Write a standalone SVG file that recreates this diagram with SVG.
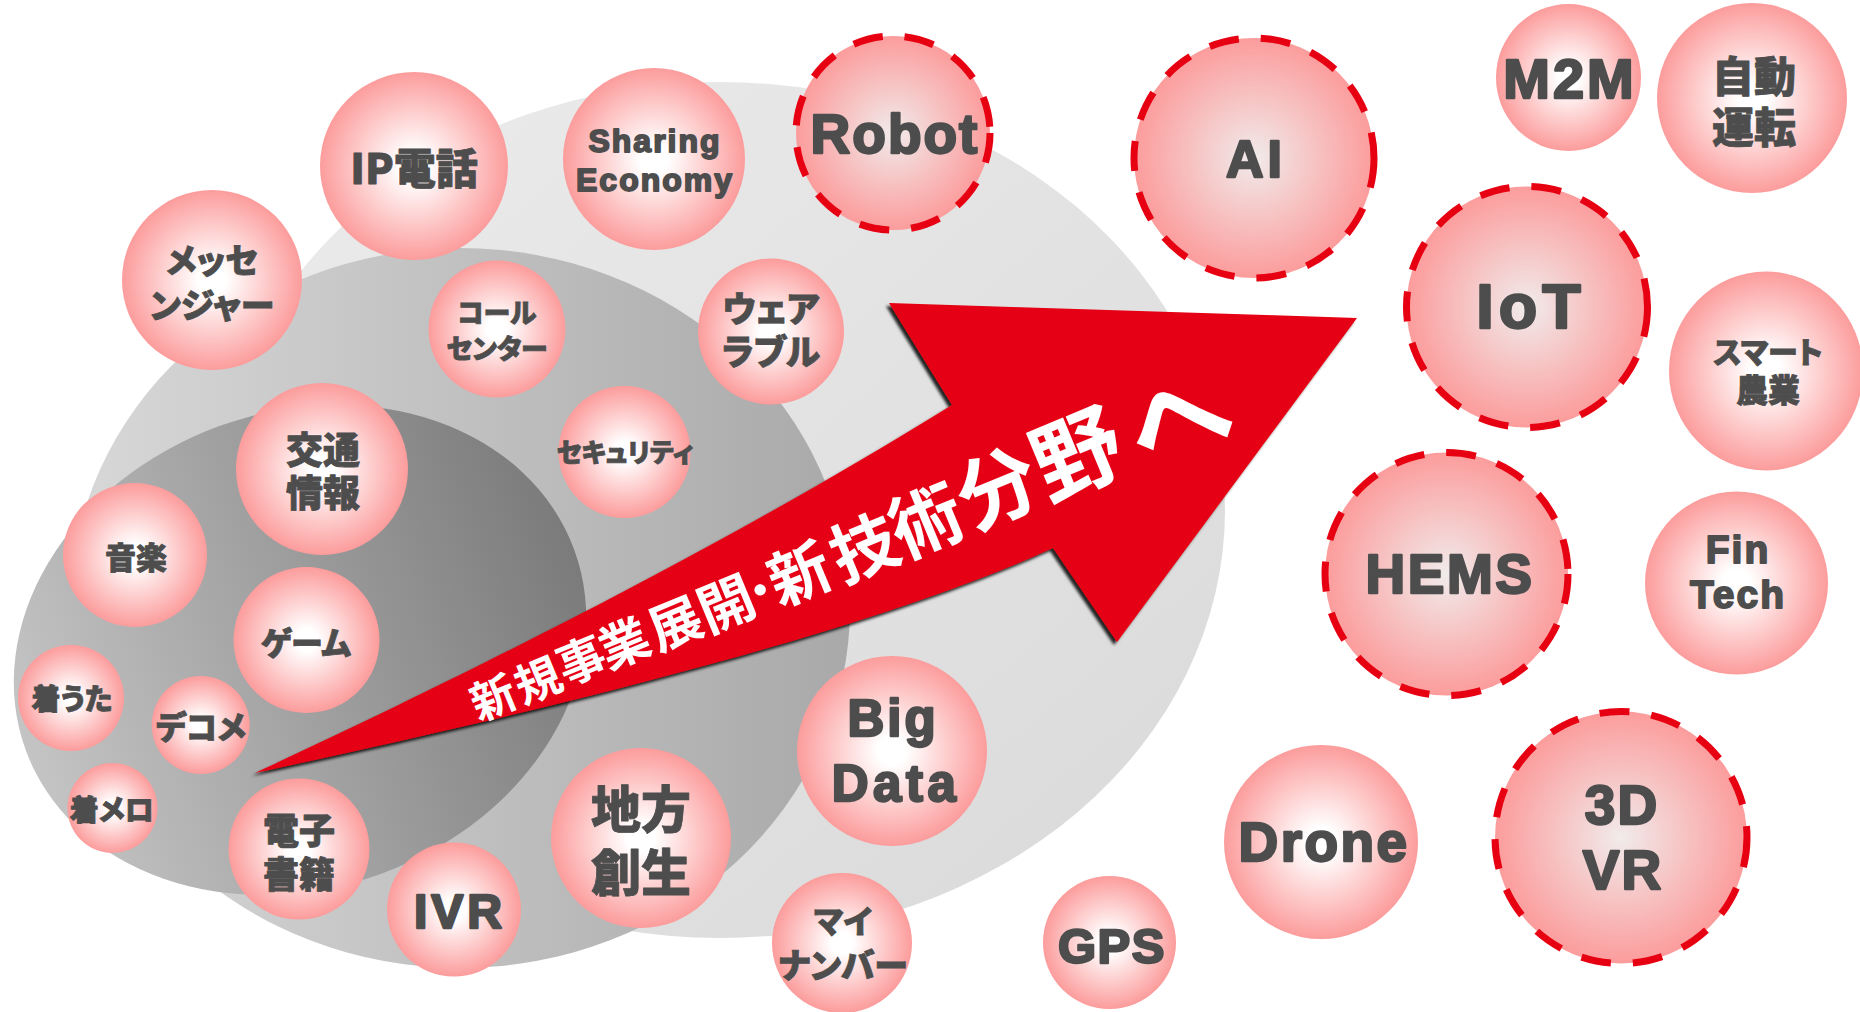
<svg xmlns="http://www.w3.org/2000/svg" width="1860" height="1012" viewBox="0 0 1860 1012">
<defs>
<radialGradient id="pink" cx="0.5" cy="0.5" r="0.5"><stop offset="0" stop-color="#ffffff"/><stop offset="0.15" stop-color="#ffffff"/><stop offset="1" stop-color="#fc9c9c"/></radialGradient>
<radialGradient id="pinkD" cx="0.5" cy="0.5" r="0.5"><stop offset="0" stop-color="#f1ebeb"/><stop offset="1" stop-color="#fc9c9c"/></radialGradient>
<linearGradient id="g1" x1="0" y1="0" x2="1" y2="1"><stop offset="0" stop-color="#ececec"/><stop offset="1" stop-color="#d9d9d9"/></linearGradient>
<linearGradient id="g2" x1="0" y1="0.5" x2="1" y2="0.5"><stop offset="0" stop-color="#d8d8d8"/><stop offset="1" stop-color="#a9a9a9"/></linearGradient>
<linearGradient id="g3" x1="0" y1="0.5" x2="1" y2="0.5"><stop offset="0" stop-color="#c4c4c4"/><stop offset="1" stop-color="#7b7b7b"/></linearGradient>
<filter id="shadow" x="-10%" y="-10%" width="120%" height="130%"><feDropShadow dx="-3" dy="3" stdDeviation="1.5" flood-color="#000000" flood-opacity="0.85"/></filter>
</defs>
<style>
.b{fill:url(#pink)}
.bd{fill:url(#pinkD);stroke:#e60012;stroke-width:7;stroke-dasharray:30 22}
.en{font-family:"Liberation Sans",Arial,sans-serif;font-weight:700;fill:#4d4d4d;stroke:#4d4d4d;stroke-width:2.4;stroke-linejoin:round;text-anchor:middle}
.sm{stroke-width:1.8}
.jp{font-family:"Noto Sans CJK JP","Noto Sans CJK SC",sans-serif;font-weight:900;fill:#4d4d4d;stroke:#4d4d4d;stroke-width:0.8;stroke-linejoin:round;text-anchor:middle;font-feature-settings:"palt"}
.at{font-family:"Noto Sans CJK JP","Noto Sans CJK SC",sans-serif;font-weight:700;fill:#ffffff;text-anchor:middle}
</style>
<rect width="1860" height="1012" fill="#ffffff"/>
<g id="background">
<ellipse cx="720" cy="510" rx="505" ry="428" fill="url(#g1)"/>
<ellipse cx="460" cy="608" rx="390" ry="360" fill="url(#g2)"/>
<ellipse cx="300" cy="650" rx="292" ry="238" transform="rotate(-20 300 650)" fill="url(#g3)"/>
</g>
<g id="connectors">
<g id="arrow">
<path d="M255,773 C400,706 700,562 952,405 L889,303 L1357,318 L1117,642 L1053,548 C850,640 500,720 255,773 Z" fill="#e60012" filter="url(#shadow)"/>
<text class="at" transform="translate(493 697) rotate(-22.5)"><tspan x="0" y="17.1" font-size="45">新</tspan><tspan x="48" y="19" font-size="46">規</tspan><tspan x="95.5" y="17.7" font-size="48">事</tspan><tspan x="141.7" y="19.2" font-size="50">業</tspan><tspan x="196.4" y="21.4" font-size="53">展</tspan><tspan x="251.3" y="23.7" font-size="56">開</tspan><tspan x="288" y="25.3" font-size="58">･</tspan><tspan x="330.2" y="26.1" font-size="62">新</tspan><tspan x="400.2" y="28.9" font-size="67">技</tspan><tspan x="467.7" y="29.6" font-size="72">術</tspan><tspan x="546" y="29.3" font-size="80">分</tspan><tspan x="633" y="32.3" font-size="90">野</tspan><tspan x="740" y="42.8" font-size="104">へ</tspan></text>
</g>
</g>
<g id="nodes">
<g id="n-ip"><circle class="b" cx="414" cy="166" r="94"/><text class="jp" x="414" y="184" font-size="42">IP電話</text></g>
<g id="n-messenger"><circle class="b" cx="212" cy="280" r="90"/><text class="jp" font-size="34"><tspan x="212" y="273">メッセ</tspan><tspan x="212" y="318">ンジャー</tspan></text></g>
<g id="n-callcenter"><circle class="b" cx="497" cy="329" r="68.5"/><text class="jp" font-size="27"><tspan x="497" y="323">コール</tspan><tspan x="497" y="359">センター</tspan></text></g>
<g id="n-sharing"><circle class="b" cx="654" cy="159" r="91"/><text class="en sm" font-size="32" letter-spacing="2"><tspan x="655" y="152">Sharing</tspan><tspan x="655" y="191">Economy</tspan></text></g>
<g id="n-robot"><circle class="bd" cx="893" cy="133" r="97"/><text class="en" x="895" y="153" font-size="55" letter-spacing="2">Robot</text></g>
<g id="n-ai"><circle class="bd" cx="1254" cy="158" r="120"/><text class="en" x="1256" y="177" font-size="52" letter-spacing="4">AI</text></g>
<g id="n-m2m"><ellipse class="b" cx="1568.5" cy="77.5" rx="72.5" ry="73.5"/><text class="en" x="1570" y="98" font-size="56" letter-spacing="3">M2M</text></g>
<g id="n-jidou"><circle class="b" cx="1752" cy="98" r="95"/><text class="jp" font-size="42"><tspan x="1754" y="92">自動</tspan><tspan x="1754" y="143">運転</tspan></text></g>
<g id="n-iot"><circle class="bd" cx="1527" cy="307" r="120.5"/><text class="en" x="1531" y="328" font-size="63" letter-spacing="5">IoT</text></g>
<g id="n-smart"><ellipse class="b" cx="1766" cy="371" rx="97" ry="99.5"/><text class="jp"><tspan x="1768" y="363" font-size="30">スマート</tspan><tspan x="1768" y="402" font-size="32">農業</tspan></text></g>
<g id="n-wearable"><circle class="b" cx="771" cy="331.5" r="73"/><text class="jp" font-size="35"><tspan x="771" y="322">ウェア</tspan><tspan x="771" y="365">ラブル</tspan></text></g>
<g id="n-security"><circle class="b" cx="624.5" cy="452" r="66"/><text class="jp" x="625" y="462" font-size="26">セキュリティ</text></g>
<g id="n-koutsuu"><circle class="b" cx="322" cy="469" r="86"/><text class="jp" font-size="37"><tspan x="323" y="464">交通</tspan><tspan x="323" y="507">情報</tspan></text></g>
<g id="n-ongaku"><circle class="b" cx="135" cy="555" r="72"/><text class="jp" x="136" y="569" font-size="31">音楽</text></g>
<g id="n-game"><circle class="b" cx="306.5" cy="640" r="73"/><text class="jp" x="306" y="655" font-size="32">ゲーム</text></g>
<g id="n-chakuuta"><circle class="b" cx="71" cy="698" r="53"/><text class="jp" x="72" y="710" font-size="29">着うた</text></g>
<g id="n-decome"><circle class="b" cx="200.7" cy="725" r="49"/><text class="jp" x="201" y="739" font-size="32">デコメ</text></g>
<g id="n-chakumelo"><circle class="b" cx="112.5" cy="808" r="45"/><text class="jp" x="112" y="821" font-size="29">着メロ</text></g>
<g id="n-ebook"><circle class="b" cx="299" cy="849" r="70.5"/><text class="jp" font-size="36"><tspan x="299" y="844">電子</tspan><tspan x="299" y="888">書籍</tspan></text></g>
<g id="n-ivr"><circle class="b" cx="454" cy="909.5" r="67"/><text class="en" x="460" y="928" font-size="48" letter-spacing="4">IVR</text></g>
<g id="n-chihou"><circle class="b" cx="641" cy="838" r="90"/><text class="jp" font-size="50"><tspan x="641" y="828">地方</tspan><tspan x="641" y="891">創生</tspan></text></g>
<g id="n-bigdata"><circle class="b" cx="892" cy="751" r="95"/><text class="en" font-size="51"><tspan x="893" y="736" letter-spacing="3">Big</tspan><tspan x="896" y="801" letter-spacing="4.5">Data</tspan></text></g>
<g id="n-mynumber"><circle class="b" cx="842" cy="943" r="70"/><text class="jp"><tspan x="843" y="933" font-size="32">マイ</tspan><tspan x="843" y="978" font-size="34">ナンバー</tspan></text></g>
<g id="n-gps"><circle class="b" cx="1109.5" cy="942.5" r="66.5"/><text class="en" x="1112" y="963" font-size="49" letter-spacing="1.5">GPS</text></g>
<g id="n-drone"><circle class="b" cx="1321" cy="842" r="97"/><text class="en" x="1324" y="861" font-size="55" letter-spacing="2.4">Drone</text></g>
<g id="n-3dvr"><circle class="bd" cx="1621" cy="837.5" r="126"/><text class="en" font-size="55" letter-spacing="2"><tspan x="1622" y="824">3D</tspan><tspan x="1623" y="889">VR</tspan></text></g>
<g id="n-hems"><circle class="bd" cx="1446.5" cy="574" r="121.5"/><text class="en" x="1450" y="593" font-size="55" letter-spacing="2.5">HEMS</text></g>
<g id="n-fintech"><circle class="b" cx="1736.5" cy="583" r="91.5"/><text class="en sm" font-size="39" letter-spacing="2"><tspan x="1738" y="563">Fin</tspan><tspan x="1738" y="608">Tech</tspan></text></g>
</g>
</svg>
